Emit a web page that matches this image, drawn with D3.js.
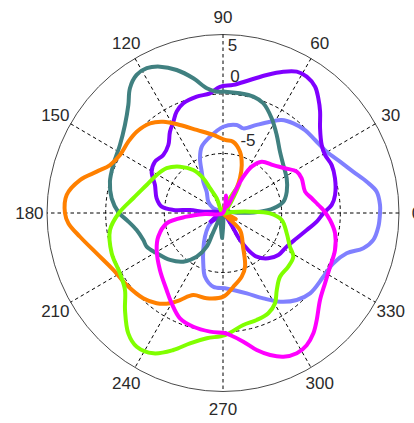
<!DOCTYPE html>
<html>
<head>
<meta charset="utf-8">
<script src="https://cdn.jsdelivr.net/npm/d3@7"></script>
<style>
  html, body { margin: 0; padding: 0; background: #fff; }
  svg { display: block; }
  text { font-family: "Liberation Sans", Arial, sans-serif; fill: #2a2a2a; }
</style>
</head>
<body>
<div id="chart"></div>
<script>
// angle ticks (degrees, counter-clockwise from east) and radial ticks
const angleTicks = [0, 30, 60, 90, 120, 150, 180, 210, 240, 270, 300, 330]
const radialTicks = [-5, 0, 5]
const radialDomain = [-10, 5]

// each series: [angle in degrees, value]
const lightBlue = [
  [215.4, -8.99], [222.6, -8.3], [232.4, -7.48], [241.6, -6.46], [248.3, -5.45],
  [254, -4.43], [262.4, -3.75], [271.5, -3.67], [277.7, -3.47], [286.7, -2.95],
  [295.6, -2.05], [303.1, -1.1], [310.7, -0.36], [317.7, 0.03], [327.9, 0.09],
  [335.8, 0.31], [342.2, 1.07], [346.1, 2.32], [350, 3.01], [355, 3.29],
  [359.9, 3.38], [2.9, 3.4], [7.8, 3.22], [12.1, 2.53], [17.3, 1.64],
  [23.4, 0.87], [30.2, 0.23], [38, -0.04], [44.9, -0.13], [51.5, -0.37],
  [57.4, -0.72], [62.4, -1.35], [68.8, -2.06], [76.3, -2.68], [81, -2.51],
  [89.8, -2.75], [99.8, -3.5], [108, -4.14], [113.1, -5.0], [117.6, -6.09],
  [122.5, -6.88], [127.8, -7.73], [142.9, -8.43], [153.9, -9.05], [175, -10]
]

const purple = [
  [190, -10], [215, -8.6], [250, -10], [307.5, -9.26], [304.3, -8.44],
  [302.6, -7.31], [304.7, -6.21], [308, -5.34], [315.4, -4.58], [323.2, -4.11],
  [332.5, -3.88], [341.3, -3.37], [348.7, -2.72], [354.8, -1.98], [359.8, -1.45],
  [4.2, -0.71], [9, -0.33], [17, -0.02], [23.5, 0.1], [29.3, -0.03],
  [34.2, 0.17], [40.7, 0.91], [45.8, 1.87], [49.9, 2.61], [53.5, 3.2],
  [58.1, 3.5], [62.1, 3.44], [66.6, 2.94], [72.2, 2.18], [78.4, 1.41],
  [85.3, 0.8], [91.4, 0.61], [96.3, 0.12], [102.9, 0.03], [110.1, -0.18],
  [114.9, -0.61], [118.9, -1.24], [123.5, -1.81], [129.2, -2.63], [136.2, -2.95],
  [143.3, -2.77], [150.3, -3.0], [157.9, -3.74], [167.7, -4.21], [174.2, -4.75],
  [176.5, -5.76], [174.8, -7.18], [176.2, -8.32]
]

const teal = [
  [0.5, -8.5], [2, -6.85], [5.2, -5.69], [10.4, -4.77], [18.2, -4.28],
  [28.2, -3.84], [38.1, -3.47], [46.7, -2.92], [55.1, -2.0], [62.5, -1.02],
  [69.6, -0.16], [75.2, 0.11], [81.8, 0.16], [89, 0.2], [93, 0.21],
  [97.5, 0.57], [102.6, 1.6], [108.2, 2.65], [113.6, 3.42], [118.1, 3.79],
  [122.4, 3.74], [127.1, 3.15], [131.6, 2.15], [138.5, 1.16], [146.95, 0.48],
  [156.7, 0.19], [164.7, -0.01], [172.6, -0.43], [180, -1.13], [184.1, -1.77],
  [191, -2.5], [198.5, -2.84], [203.5, -2.91], [210.9, -3.41], [221.1, -4.0],
  [230.4, -4.69], [238.6, -5.7], [243.8, -6.85], [242.6, -8.2], [255, -10],
  [268, -7.9], [285, -10]
]

const orange = [
  [61, -7.6], [63.8, -6.72], [68.4, -5.66], [74.3, -4.65], [81.9, -3.95],
  [88.4, -3.86], [97.2, -3.39], [107.8, -2.67], [116.4, -1.74], [123.6, -0.79],
  [129.5, -0.23], [137.1, 0.04], [143.4, 0.05], [151, 0.04], [157.3, 0.44],
  [162.1, 1.31], [167.2, 2.5], [173.5, 3.41], [180, 3.47], [183.8, 3.2],
  [189.3, 2.35], [197.5, 1.29], [207.1, 0.5], [216.4, 0.2], [226.5, -0.12],
  [233.3, -0.54], [239.2, -1.17], [243.4, -1.82], [249.8, -2.65], [259, -2.7],
  [270.2, -2.97], [278.1, -3.74], [286.6, -4.42], [292.6, -5.11], [301.1, -6.7],
  [315.3, -7.96], [325, -10], [335, -8.8], [350, -10]
]

const green = [
  [113.5, -8.65], [118, -7.64], [119.9, -6.63], [125, -5.59], [133.3, -4.65],
  [141.9, -3.9], [150.5, -3.51], [160.1, -3.08], [170.8, -2.25], [180, -1.13],
  [188.5, -0.26], [199.6, 0.07], [210, 0.14], [217.8, 0.57], [224.3, 1.67],
  [231.4, 2.94], [236.8, 3.43], [243.3, 3.2], [249.8, 2.27], [255.6, 1.31],
  [262.5, 0.62], [271, 0.26], [280.4, -0.43], [287.7, -0.56], [294.6, -0.73],
  [300.3, -1.21], [305.3, -2.07], [312.2, -2.77], [321, -2.84], [328.5, -2.97],
  [333.6, -3.63], [342.6, -4.31], [353.3, -4.96], [359.6, -6.0], [2.8, -7.7],
  [6, -9.2], [30, -10], [60, -7.2], [85, -10]
]

const magenta = [
  [183, -8.47], [185.7, -6.89], [190.3, -5.12], [199.9, -4.13], [208.8, -3.55],
  [221.7, -2.8], [233.4, -1.94], [240, -1.24], [247.5, -0.42], [255.2, -0.11],
  [263.7, 0.03], [271, 0.11], [273.3, 0.27], [279.1, 0.95], [284, 1.87],
  [288.6, 2.59], [293.1, 3.13], [298.1, 3.36], [302.7, 3.2], [307.3, 2.71],
  [311.6, 2.03], [318.5, 1.04], [325.8, 0.51], [333.7, 0.18], [341.9, 0.04],
  [349.9, -0.3], [356.3, -0.86], [1.7, -1.45], [3.7, -1.71], [9.3, -2.34],
  [14.4, -2.78], [23.5, -2.69], [28.9, -2.82], [35.4, -3.51], [43.2, -4.12],
  [52.6, -4.57], [57.9, -5.4], [60.4, -6.49], [60.3, -7.94], [59.2, -9.39],
  [80, -8.5], [120, -10]
]

// drawing order: later series on top
const series = [
  { name: "lightBlue", color: "#8080FF", data: lightBlue },
  { name: "purple", color: "#8000FF", data: purple },
  { name: "teal", color: "#408080", data: teal },
  { name: "orange", color: "#FF8000", data: orange },
  { name: "green", color: "#80FF00", data: green },
  { name: "magenta", color: "#FF00FF", data: magenta }
]

const width = 414
const height = 423
const cx = 223
const cy = 213
const R = 176
const yStretch = 178.5 / 176

// nudges for the radial tick labels (dx, dy from centre)
const radialLabelPos = { "-5": [25, -72.7], "0": [12, -136.7], "5": [9.5, -167.7] }

const r = d3.scaleLinear().domain(radialDomain).range([0, R]).clamp(true)
const rad = (deg) => (deg * Math.PI) / 180

const svg = d3
  .select("#chart")
  .append("svg")
  .attr("width", width)
  .attr("height", height)

const plot = svg
  .append("g")
  .attr("transform", `translate(${cx},${cy}) scale(1,${yStretch})`)

plot
  .append("circle")
  .attr("r", R)
  .attr("fill", "#fff")
  .attr("stroke", "#4a4a4a")
  .attr("stroke-width", 1)
  .attr("vector-effect", "non-scaling-stroke")

plot
  .selectAll(".ring")
  .data(radialTicks.filter((v) => v < radialDomain[1]))
  .enter()
  .append("circle")
  .attr("class", "ring")
  .attr("r", (d) => r(d))
  .attr("fill", "none")
  .attr("stroke", "#000")
  .attr("stroke-width", 1)
  .attr("stroke-dasharray", "3.5,3")
  .attr("vector-effect", "non-scaling-stroke")

plot
  .selectAll(".spoke")
  .data(angleTicks.filter((a) => a < 180))
  .enter()
  .append("line")
  .attr("class", "spoke")
  .attr("x1", (d) => R * Math.cos(rad(d)))
  .attr("y1", (d) => -R * Math.sin(rad(d)))
  .attr("x2", (d) => -R * Math.cos(rad(d)))
  .attr("y2", (d) => R * Math.sin(rad(d)))
  .attr("stroke", "#000")
  .attr("stroke-width", 1)
  .attr("stroke-dasharray", "3.5,3")
  .attr("vector-effect", "non-scaling-stroke")

const line = d3
  .lineRadial()
  .angle((d) => rad(90 - d[0]))
  .radius((d) => r(d[1]))
  .curve(d3.curveCatmullRomClosed.alpha(0.5))

plot
  .selectAll(".series")
  .data(series)
  .enter()
  .append("path")
  .attr("class", "series")
  .attr("d", (d) => line(d.data))
  .attr("fill", "none")
  .attr("stroke", (d) => d.color)
  .attr("stroke-width", 4)
  .attr("stroke-linejoin", "round")
  .attr("vector-effect", "non-scaling-stroke")

svg
  .selectAll(".angle-label")
  .data(angleTicks)
  .enter()
  .append("text")
  .attr("class", "angle-label")
  .attr("x", (d) => cx + 1.1 * R * Math.cos(rad(d)))
  .attr("y", (d) => cy - 1.1 * R * yStretch * Math.sin(rad(d)))
  .attr("dy", "0.36em")
  .attr("text-anchor", "middle")
  .attr("font-size", "17px")
  .text((d) => d)

svg
  .selectAll(".radial-label")
  .data(radialTicks)
  .enter()
  .append("text")
  .attr("class", "radial-label")
  .attr("x", (d) => cx + radialLabelPos[d][0])
  .attr("y", (d) => cy + radialLabelPos[d][1])
  .attr("dy", "0.36em")
  .attr("text-anchor", "middle")
  .attr("font-size", "17px")
  .text((d) => d)
</script>
</body>
</html>
